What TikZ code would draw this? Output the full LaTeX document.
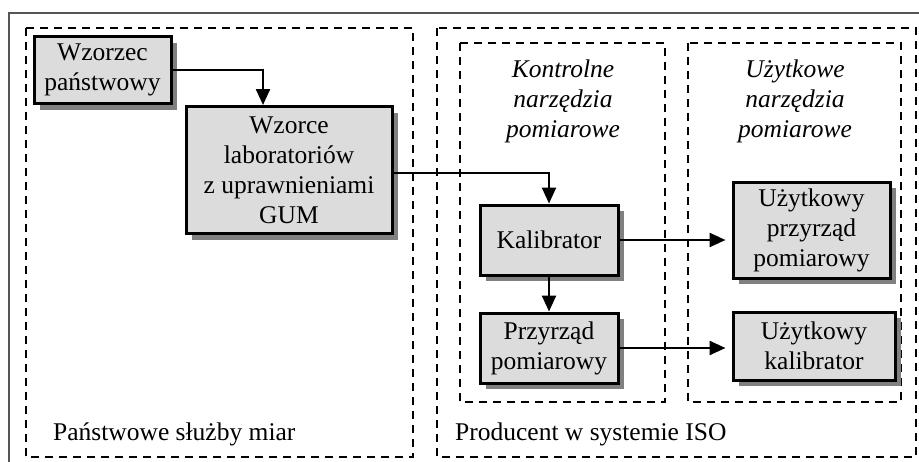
\documentclass[tikz,border=0pt]{standalone}
\usepackage{fontspec}
\setmainfont{Liberation Serif}
\usetikzlibrary{arrows.meta,shadows}
\definecolor{boxfill}{HTML}{DCDCDC}
\definecolor{shadowgray}{HTML}{808080}
\definecolor{framegray}{HTML}{555555}
\begin{document}
\begin{tikzpicture}[x=1pt,y=-1pt,
  font=\fontsize{25.5}{30}\selectfont,
  blk/.style={draw=black, line width=3pt, fill=boxfill, align=center,
    inner sep=0pt, drop shadow={shadow xshift=6pt, shadow yshift=-6pt, fill=shadowgray, opacity=1}},
  grp/.style={draw=black, line width=2.2pt, dash pattern=on 8pt off 6pt},
  arr/.style={line width=2.4pt, -{Triangle[length=16pt,width=14pt]}},
  lbl/.style={align=center, inner sep=0pt, font=\fontsize{25.5}{30}\selectfont\itshape},
  txt/.style={anchor=west, inner sep=0pt}]
\clip (0,0) rectangle (919,461);
% outer frame
\draw[framegray, line width=1.4pt] (9,13) rectangle (940,480);
% groups
\draw[grp] (26,28) rectangle (413,457);
\draw[grp] (437,28) rectangle (916,457);
\draw[grp] (460,43) rectangle (665,402);
\draw[grp] (688,43) rectangle (901,402);
% group labels
\node[lbl] (lk) at (563,101) {Kontrolne\\narzędzia\\pomiarowe};
\node[lbl] (lu) at (795,101) {Użytkowe\\narzędzia\\pomiarowe};
\node[txt] (psm) at (53,434) {Państwowe służby miar};
\node[txt] (pis) at (455,434) {Producent w systemie ISO};
% blocks
\node[blk, minimum width=137pt, minimum height=67pt] (wp) at (102.5,70) {Wzorzec\\państwowy};
\node[blk, minimum width=206pt, minimum height=127pt] (wl) at (289,170) {Wzorce\\laboratoriów\\z uprawnieniami\\GUM};
\node[blk, minimum width=138pt, minimum height=70pt] (kal) at (549,240) {Kalibrator};
\node[blk, minimum width=138pt, minimum height=70pt] (prz) at (549,348) {Przyrząd\\pomiarowy};
\node[blk, minimum width=157pt, minimum height=96pt] (up) at (811.5,230) {Użytkowy\\przyrząd\\pomiarowy};
\node[blk, minimum width=162pt, minimum height=68pt] (uk) at (814,346) {Użytkowy\\kalibrator};
% connectors
\coordinate (c1) at (263,0);
\draw[arr] (wp.east) -| (wl.north -| c1);
\draw[arr] ([yshift=-3pt]wl.east) -| (kal.north);
\draw[arr] (kal.south) -- (prz.north);
\draw[arr, shorten >=6pt] (kal.east) -- (kal.east -| up.west);
\draw[arr, shorten >=6pt] (prz.east) -- (prz.east -| uk.west);
\end{tikzpicture}
\end{document}
